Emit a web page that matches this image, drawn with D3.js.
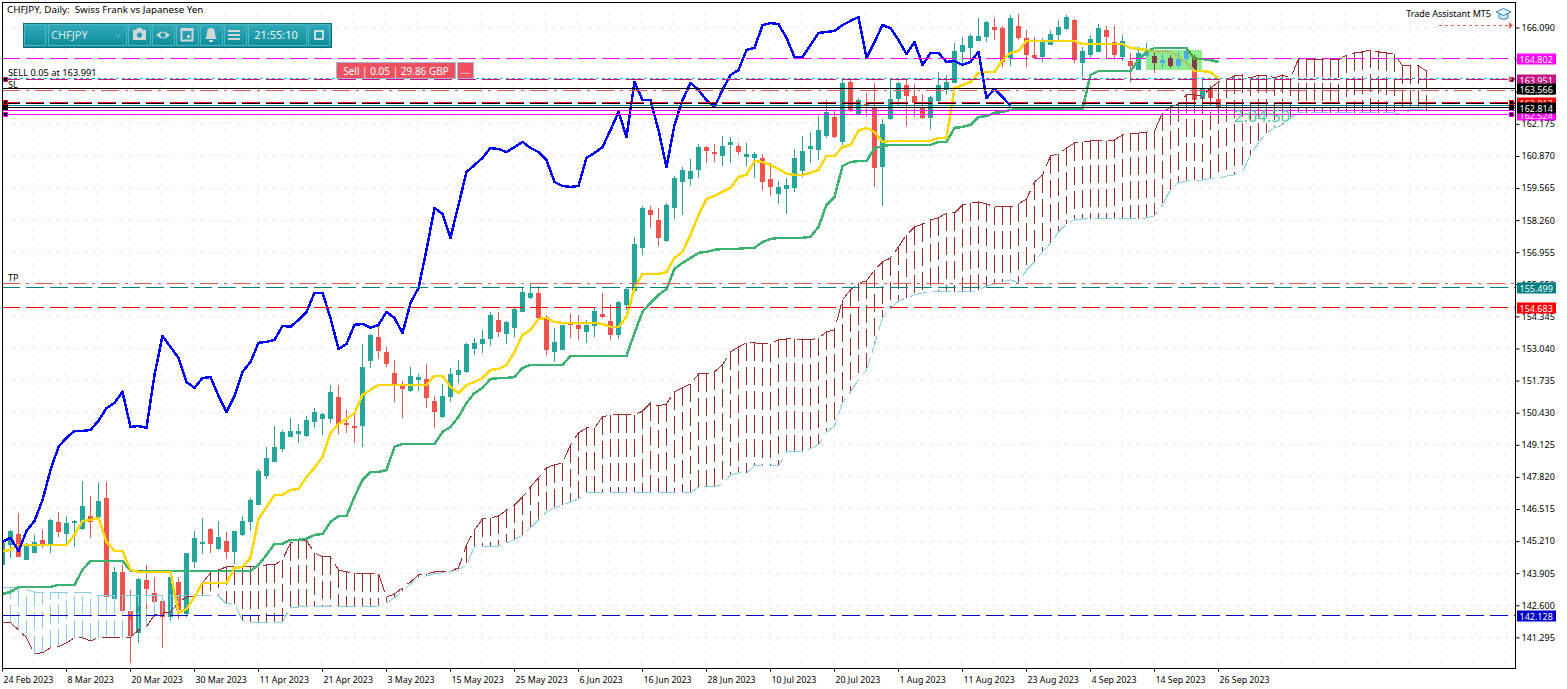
<!DOCTYPE html>
<html>
<head>
<meta charset="utf-8">
<title>CHFJPY Daily</title>
<script src="https://cdn.jsdelivr.net/npm/d3@7"></script>
<style>
html, body { margin: 0; padding: 0; background: #fff; overflow: hidden; }
svg { display: block; }
text { font-family: "Noto Sans", sans-serif; font-size: 9px; fill: #000; }
</style>
</head>
<body>
<script>
// daily candles, one entry per bar
const candleOpen = [
144.22,145.04,145.48,144.42,144.71,145.24,145.08,145.97,145.48,145.93,
145.68,146.21,146.17,146.95,142.84,143.94,142.35,141.46,143.61,143.08,
142.76,142.11,143.53,142.23,144.34,145.08,145.68,144.87,145.20,144.75,
145.44,145.97,146.66,147.84,148.41,148.94,149.43,149.55,149.47,150.04,
150.16,150.16,151.05,149.99,149.87,149.87,152.51,153.49,152.88,152.03,
151.54,151.30,151.74,151.78,150.89,150.24,151.05,151.95,152.07,153.00,
153.21,153.41,154.18,153.61,153.86,154.51,155.08,155.28,154.30,152.88,
152.96,154.02,153.98,153.69,153.94,154.43,154.14,153.57,154.79,155.36,
157.11,158.65,158.25,157.39,158.73,159.79,159.91,160.28,161.21,161.01,
160.85,161.30,161.25,160.81,160.77,160.77,159.91,159.30,159.51,159.55,
160.24,161.13,161.09,161.66,162.43,161.42,163.86,162.56,162.96,162.84,
160.40,162.35,163.17,163.73,163.29,162.84,162.39,163.08,163.53,163.82,
165.08,165.24,165.52,165.69,166.09,166.05,164.83,166.13,165.64,164.95,
164.87,165.36,165.77,166.01,166.38,164.63,164.95,165.08,165.97,165.48,
164.87,164.71,164.34,164.91,164.91,164.63,164.83,164.51,164.79,164.87,
163.17,163.57,163.17];
const candleHigh = [
145.56,145.64,146.34,145.12,145.44,145.64,146.09,146.38,146.21,146.05,
147.64,147.03,147.56,147.60,144.14,144.22,143.20,143.69,144.22,143.73,
142.80,143.73,143.73,144.71,145.60,146.13,145.72,146.01,145.56,145.60,
146.21,146.95,148.12,149.02,149.87,149.71,150.20,149.95,150.28,150.60,
150.40,151.54,151.54,150.52,150.40,153.21,153.61,153.98,153.08,152.56,
151.70,152.27,151.98,152.39,151.09,151.58,152.23,152.56,153.25,153.45,
153.78,154.51,154.51,154.14,154.67,155.52,155.69,155.56,154.39,153.86,
153.98,154.43,154.39,154.18,154.67,155.28,154.79,154.95,155.52,157.56,
158.82,158.82,158.73,158.94,160.03,160.40,160.73,161.34,161.25,161.34,
161.66,161.62,161.38,161.38,161.01,160.93,160.56,159.83,159.95,161.13,
161.66,161.82,162.47,163.12,162.72,164.02,163.94,163.21,163.41,163.82,
162.35,164.02,163.86,164.02,163.78,163.37,163.29,164.26,164.14,165.44,
165.69,165.81,166.46,166.34,166.46,166.13,166.58,166.62,165.97,165.69,
165.65,165.97,166.38,166.58,166.42,165.28,165.77,166.21,166.13,166.13,
165.77,165.04,165.28,165.44,165.08,165.04,164.95,165.08,165.20,164.95,
164.06,163.73,163.17];
const candleLow = [
144.14,144.50,144.54,144.42,144.71,144.91,144.71,145.36,145.08,144.95,
145.64,145.32,146.13,142.92,142.84,142.31,140.24,141.05,142.31,142.11,
140.85,141.94,142.03,142.11,144.10,144.67,144.71,144.83,144.46,144.26,
145.40,145.60,146.66,147.72,148.41,148.82,149.43,149.18,149.43,149.79,
149.51,149.99,149.55,149.59,149.18,149.02,152.23,152.60,152.27,150.85,
150.20,151.26,151.30,150.60,149.79,150.20,150.85,151.62,152.03,152.76,
152.84,153.12,153.49,153.21,153.49,154.51,155.03,154.26,152.76,152.47,
152.96,153.45,153.37,153.25,153.49,154.26,153.37,153.41,154.59,155.36,
156.82,157.92,157.19,157.35,158.29,158.45,159.63,159.95,160.56,160.60,
160.44,160.56,160.89,160.44,159.95,159.46,159.22,158.90,158.49,159.38,
160.00,160.56,160.68,161.58,161.58,161.30,162.64,162.51,162.43,159.59,
158.82,162.31,162.92,162.07,162.43,162.35,161.95,163.04,163.33,163.82,
164.55,164.75,165.52,165.48,165.56,164.47,164.51,165.56,164.47,164.79,
164.67,165.36,165.56,165.97,164.63,164.06,164.79,165.08,164.83,164.75,
164.71,163.86,164.34,164.83,164.22,164.43,164.43,164.43,164.63,163.12,
163.12,163.17,162.76];
const candleClose = [
145.12,145.60,144.54,145.00,145.16,145.00,146.05,145.56,145.93,146.01,
146.62,145.97,146.82,142.92,143.94,142.35,141.34,143.65,143.25,142.72,
142.11,143.73,142.39,144.71,145.32,145.16,145.08,145.36,144.75,145.60,
146.01,146.86,148.04,148.57,149.02,149.63,149.67,149.67,150.12,150.44,
150.36,151.26,149.95,149.91,149.79,152.27,153.57,152.92,152.39,151.54,
151.38,151.90,151.86,151.01,150.44,151.09,151.98,152.15,153.21,153.25,
153.41,154.39,153.69,154.10,154.63,155.32,155.28,154.26,152.96,153.29,
153.98,153.98,153.82,153.98,154.55,154.30,153.57,154.91,155.44,157.27,
158.73,158.45,157.52,158.86,159.95,160.28,160.24,161.21,161.05,160.93,
161.25,161.42,161.01,160.93,160.93,159.79,159.59,159.59,159.67,160.77,
161.05,161.25,161.90,162.64,161.62,163.82,162.72,163.12,162.88,160.36,
162.15,163.17,163.82,163.29,163.00,162.39,163.25,163.73,163.86,165.12,
165.36,165.73,165.73,166.30,165.97,164.67,166.46,165.64,164.95,164.83,
165.48,165.81,166.09,166.50,164.75,165.12,165.60,166.05,165.69,164.95,
165.52,164.51,165.04,165.08,164.63,164.75,164.51,164.79,165.12,163.12,
163.57,163.21,162.84];

// ichimoku
const tenkan = [
144.79,144.83,145.04,145.04,145.04,145.04,145.04,145.04,145.04,145.44,146.01,146.05,146.13,145.16,144.79,144.79,
144.02,143.94,143.94,143.94,143.94,143.94,142.27,142.43,142.92,143.49,143.49,143.49,143.49,
144.10,144.14,144.51,146.09,146.58,147.07,147.07,147.27,147.31,147.80,148.17,148.61,149.59,149.95,150.16,150.40,151.13,151.34,
151.54,151.54,151.54,151.54,151.54,151.54,151.54,151.91,151.91,
151.46,151.21,151.54,151.66,151.82,152.15,152.19,152.35,152.88,153.57,153.78,154.22,154.26,154.10,
154.06,154.06,154.06,154.06,154.06,154.02,153.90,153.90,154.30,155.48,156.05,156.05,156.05,
156.13,156.70,156.95,157.64,158.45,159.10,159.22,159.39,159.55,159.99,160.08,160.65,160.60,160.48,160.32,160.12,160.08,160.08,160.16,160.28,160.85,160.85,161.21,161.30,161.87,161.99,161.82,161.42,
161.46,161.46,161.46,161.46,161.46,161.46,161.58,161.58,163.61,163.73,163.86,164.22,164.26,164.26,164.75,165.04,165.12,
165.52,165.52,165.52,165.52,165.52,165.52,165.52,165.40,165.40,165.40,165.40,165.40,165.40,
165.24,165.20,165.16,165.08,165.12,165.08,164.87,164.63,164.30,164.30,164.26,163.98];
const kijun = [
143.04,143.12,143.33,143.33,143.33,143.33,143.33,143.41,143.41,143.41,144.02,144.39,144.39,144.39,144.39,144.39,
143.98,143.98,143.98,143.98,143.98,143.98,143.98,143.98,143.98,143.98,143.98,143.98,143.98,143.98,143.98,143.98,
144.22,144.63,145.08,145.08,145.24,145.24,145.28,145.44,145.48,145.97,146.21,146.21,146.99,147.68,148.00,148.00,148.08,149.02,
149.14,149.14,149.14,149.14,149.14,149.63,149.83,150.24,150.81,151.21,151.42,151.78,151.82,151.82,151.86,152.23,
152.35,152.35,152.35,152.35,152.35,152.72,152.72,152.72,152.72,152.72,152.72,152.72,152.72,
153.65,154.51,154.87,155.20,155.44,156.26,156.50,156.70,156.91,156.95,157.03,157.07,157.07,157.07,157.11,157.11,157.35,157.47,
157.52,157.52,157.52,157.52,157.56,157.96,158.86,159.18,160.44,160.60,160.64,160.64,161.17,161.25,
161.30,161.30,161.30,161.30,161.30,161.30,161.42,161.42,161.99,162.03,162.11,162.43,162.47,162.60,162.64,162.72,
162.76,162.76,162.76,162.76,162.76,162.76,162.76,162.76,162.76,164.14,164.30,164.30,164.30,164.30,164.30,
164.75,165.08,165.24,165.24,165.24,165.24,165.24,164.79,164.79,164.75,164.67];
const chikou = [
145.16,145.32,144.79,145.60,146.01,146.86,148.08,149.02,149.39,149.67,149.67,149.71,150.08,150.60,150.81,151.26,149.83,149.87,149.79,151.95,
153.53,153.08,152.64,151.66,151.42,151.82,151.86,151.09,150.44,151.09,152.07,152.47,153.25,153.29,153.37,153.94,153.90,154.18,154.51,155.28,
155.28,154.26,153.00,153.21,153.98,154.02,153.86,153.98,154.51,154.26,153.65,154.87,155.48,157.03,158.73,158.49,157.52,158.86,160.20,160.48,
160.77,161.17,161.13,161.01,161.21,161.42,161.17,161.01,160.68,159.79,159.63,159.59,159.63,160.77,160.97,161.21,161.90,162.64,161.62,163.86,
163.12,163.12,161.90,160.40,162.11,163.12,163.82,163.53,163.12,162.84,163.53,164.14,164.34,165.16,165.24,166.17,166.25,166.21,165.65,164.87,
164.87,165.36,165.85,165.89,165.93,166.17,166.34,166.50,164.83,165.48,166.17,166.05,165.56,164.99,165.48,164.55,165.04,165.04,164.67,164.71,
164.55,164.67,165.08,163.21,163.57,163.25,162.88];
const spanA = [
141.87,141.87,141.58,141.26,140.61,140.65,140.85,140.89,141.05,141.26,141.26,141.13,141.26,141.26,141.26,141.26,141.26,141.58,141.70,142.19,
142.27,142.31,142.68,142.92,142.96,143.49,143.90,144.02,144.14,144.14,144.14,144.14,144.14,144.22,144.22,144.42,145.12,145.20,145.20,144.71,
144.55,144.55,144.02,143.94,143.90,143.86,143.86,143.86,142.92,143.04,143.29,143.53,143.82,143.86,143.94,143.94,143.98,144.10,145.04,145.64,
146.09,146.13,146.21,146.46,146.66,146.99,147.39,147.76,148.17,148.29,148.37,149.10,149.59,149.79,149.79,150.24,150.32,150.32,150.32,150.32,
150.48,150.81,150.69,150.77,151.26,151.42,151.58,151.99,151.99,152.07,152.35,152.88,153.08,153.25,153.25,153.21,153.21,153.37,153.41,153.41,
153.37,153.37,153.45,153.69,153.78,155.00,155.40,155.69,155.77,156.21,156.54,156.70,157.15,157.64,157.96,158.08,158.25,158.33,158.53,158.53,
158.86,158.94,158.98,158.90,158.78,158.78,158.78,158.90,159.10,159.79,160.08,160.85,160.93,161.17,161.38,161.42,161.46,161.46,161.46,161.50,
161.70,161.78,161.78,161.82,161.86,162.60,162.84,162.96,163.33,163.33,163.29,163.61,163.86,163.94,164.10,164.14,164.02,164.14,164.14,164.02,
164.14,164.02,164.79,164.79,164.79,164.79,164.79,164.75,164.95,165.04,165.08,165.16,165.08,165.04,164.99,164.51,164.51,164.51,164.30];
const spanB = [
143.29,143.29,143.29,143.21,143.12,143.12,143.12,143.12,143.12,143.12,143.12,143.08,
142.96,142.96,142.96,142.96,142.96,142.96,142.96,142.96,142.96,142.96,142.96,142.96,142.96,142.96,142.96,142.96,
142.64,142.64,141.95,141.90,141.90,141.90,141.90,141.90,142.51,142.51,
142.55,142.55,142.55,142.55,142.55,142.55,142.55,142.55,142.55,142.55,
142.68,142.88,143.17,143.45,143.73,143.78,143.86,143.90,143.94,144.02,144.22,144.95,144.99,144.99,144.99,145.12,145.24,145.44,145.73,146.05,146.38,146.54,146.66,146.78,146.91,
147.15,147.15,147.15,147.15,147.15,147.15,147.15,147.15,147.15,147.15,147.15,147.15,147.15,147.15,
147.39,147.39,147.39,147.51,147.88,147.96,147.96,148.25,148.25,148.25,148.25,148.82,148.82,
148.82,148.94,149.10,149.63,149.87,150.81,151.26,151.74,152.15,153.17,154.26,154.67,154.95,155.08,155.20,155.28,
155.32,155.32,155.32,155.32,155.32,155.32,155.40,155.56,155.65,155.73,155.81,155.69,156.21,156.54,156.95,157.31,157.76,158.08,158.25,
158.29,158.29,158.29,158.29,158.29,158.29,158.29,158.29,158.33,158.41,158.86,159.47,159.75,159.83,159.87,159.87,159.95,159.95,160.03,160.08,160.20,160.89,161.38,161.78,161.99,162.11,162.39,
162.60,162.60,162.60,162.60,162.60,162.60,162.60,162.60,162.60,162.60,162.60,162.60,162.60,162.51,162.72,162.72,162.72];

// axis labels
const dateLabels = ["24 Feb 2023","8 Mar 2023","20 Mar 2023","30 Mar 2023","11 Apr 2023","21 Apr 2023","3 May 2023","15 May 2023","25 May 2023","6 Jun 2023","16 Jun 2023","28 Jun 2023","10 Jul 2023","20 Jul 2023","1 Aug 2023","11 Aug 2023","23 Aug 2023","4 Sep 2023","14 Sep 2023","26 Sep 2023"];
const priceTicks = [166.090,164.785,163.480,162.175,160.870,159.565,158.260,156.955,155.650,154.345,153.040,151.735,150.430,149.125,147.820,146.515,145.210,143.905,142.600,141.295];

// price tags on the right axis
const tagValues = [164.802,163.951,163.012,162.524,163.566,162.814,155.499,154.683,142.128];
const tagColors = ["#ff00ff","#c71585","#ff0000","#ff00ff","#000000","#000000","#008080","#ff0000","#0000cd"];

const width = 1567;
const height = 689;
const left = 2, right = 1515, top_ = 2, bottom = 668;
const barStep = 8;

const x = d3.scaleLinear().domain([0, 1]).range([left + 0.5, left + 0.5 + barStep]);
const y = d3.scaleLinear().domain([140.03, 167.108]).range([bottom, top_]);

const upColor = "#26a69a", downColor = "#ef5350";

const svg = d3.select("body").append("svg")
    .attr("width", width)
    .attr("height", height)
    .attr("viewBox", `0 0 ${width} ${height}`);

const defs = svg.append("defs");
defs.append("clipPath").attr("id", "plot").append("rect")
    .attr("x", left).attr("y", top_).attr("width", right - left).attr("height", bottom - top_);
defs.append("clipPath").attr("id", "boxClip").append("rect")
    .attr("x", 1146).attr("y", 50).attr("width", 56).attr("height", 20);
const grad = defs.append("linearGradient").attr("id", "bar").attr("x1", 0).attr("x2", 0).attr("y1", 0).attr("y2", 1);
grad.append("stop").attr("offset", 0).attr("stop-color", "#33abbb");
grad.append("stop").attr("offset", 1).attr("stop-color", "#0e8c9c");

const plot = svg.append("g").attr("clip-path", "url(#plot)");

// grid
const vGrid = d3.range(0, 190, 4);
plot.append("g").selectAll("line").data(vGrid).join("line")
    .attr("x1", d => x(d)).attr("x2", d => x(d))
    .attr("y1", top_).attr("y2", bottom)
    .attr("stroke", "#ececec").attr("stroke-dasharray", "5 4");
plot.append("g").selectAll("line").data(priceTicks).join("line")
    .attr("x1", left).attr("x2", right)
    .attr("y1", d => Math.round(y(d)) + 0.5).attr("y2", d => Math.round(y(d)) + 0.5)
    .attr("stroke", "#ececec").attr("stroke-dasharray", "5 4");

function drawCandles(g, up, down) {
    const bars = g.append("g").selectAll("g").data(candleOpen).join("g")
        .attr("shape-rendering", "crispEdges");
    bars.append("line")
        .attr("x1", (d, i) => x(i)).attr("x2", (d, i) => x(i))
        .attr("y1", (d, i) => y(candleHigh[i])).attr("y2", (d, i) => y(candleLow[i]))
        .attr("stroke", (d, i) => candleClose[i] >= d ? up : down);
    bars.append("rect")
        .attr("x", (d, i) => x(i) - 2.5)
        .attr("width", 5)
        .attr("y", (d, i) => y(Math.max(d, candleClose[i])))
        .attr("height", (d, i) => Math.max(1, Math.abs(y(d) - y(candleClose[i]))))
        .attr("fill", (d, i) => candleClose[i] >= d ? up : down);
}
drawCandles(plot, upColor, downColor);

// cloud hatch, one dashed stick per bar from span A to span B
plot.append("g").selectAll("line").data(spanA).join("line")
    .attr("x1", (d, i) => x(i)).attr("x2", (d, i) => x(i))
    .attr("y1", d => y(d)).attr("y2", (d, i) => y(spanB[i]))
    .attr("stroke", (d, i) => d >= spanB[i] ? "#a52a2a" : "#87ceeb")
    .attr("stroke-dasharray", "18 6")
    .attr("shape-rendering", "crispEdges");

const line = d3.line().x((d, i) => x(i)).y(d => y(d));

function drawLine(g, values, color, w, dash) {
    return g.append("path")
        .attr("d", line(values))
        .attr("fill", "none")
        .attr("stroke", color)
        .attr("stroke-width", w)
        .attr("stroke-dasharray", dash || null)
        .attr("stroke-linejoin", "round")
        .attr("shape-rendering", "crispEdges");
}
drawLine(plot, spanA, "#a52a2a", 1, "18 6");
drawLine(plot, spanB, "#87ceeb", 1, "18 6");
drawLine(plot, kijun, "#3cb371", 2.5);
drawLine(plot, tenkan, "#ffd700", 2.5);
drawLine(plot, chikou, "#0000ff", 2.5);

// horizontal trade levels
function level(v, color, dash, w) {
    const yy = Math.round(y(v)) - 0.5;
    plot.append("line")
        .attr("x1", left).attr("x2", right)
        .attr("y1", yy).attr("y2", yy)
        .attr("stroke", color)
        .attr("stroke-width", w || 1)
        .attr("stroke-dasharray", dash || null)
        .attr("shape-rendering", "crispEdges");
}
const longDash = "18 6";
level(164.802, "#ff00ff", longDash);
level(163.951, "#c71585", longDash);
level(163.991, "#20b2aa", "3 3");
level(163.566, "#000000");
level(163.49, "#e0605a", "18 6 3 6");
level(163.012, "#ff0000", longDash);
level(162.97, "#000000", longDash);
level(162.86, "#008080");
level(162.814, "#000000");
level(162.68, "#ff00ff");
level(162.524, "#ff00ff");
level(155.65, "#e0605a", "18 6 3 6");
level(155.499, "#008080", longDash);
level(154.683, "#ff0000", longDash);
level(142.15, "#0000cd", longDash);

// highlight box over the latest bars
const box = svg.append("g");
box.append("rect").attr("x", 1146).attr("y", 50).attr("width", 56).attr("height", 20).attr("fill", "#90ee90");
const boxInner = box.append("g").attr("clip-path", "url(#boxClip)");
drawCandles(boxInner, "#4da8ef", "#853a4e");
drawLine(boxInner, kijun, "#4ca832", 2.5);
drawLine(boxInner, tenkan, "#a5cc6b", 2.5);

// text over the chart
svg.append("text").attr("x", 1234).attr("y", 122)
    .style("font-size", "16.5px").style("fill", "#4fc79f").text("2:04:50");

// frame
svg.append("rect").attr("x", left + 0.5).attr("y", top_ + 0.5)
    .attr("width", right - left).attr("height", bottom - top_)
    .attr("fill", "none").attr("stroke", "#000").attr("shape-rendering", "crispEdges");

// axes
const xAxis = d3.axisBottom(x)
    .tickValues(dateLabels.map((d, i) => i * barStep))
    .tickFormat((d, i) => dateLabels[i])
    .tickSize(3);
svg.append("g").attr("transform", `translate(-0.5,${bottom + 0.5})`).call(xAxis)
    .call(g => g.select(".domain").remove())
    .call(g => g.selectAll("text").attr("text-anchor", "start").attr("x", 1).attr("dy", "0.95em").style("font-size", "8.8px"));

const yAxis = d3.axisRight(y)
    .tickValues(priceTicks)
    .tickFormat(d3.format(".3f"))
    .tickSize(4);
svg.append("g").attr("transform", `translate(${right + 0.5},0.5)`).call(yAxis)
    .call(g => g.select(".domain").remove())
    .call(g => g.selectAll("text").attr("x", 6));

// tags
const tags = svg.append("g").selectAll("g").data(tagValues).join("g")
    .attr("transform", d => `translate(1517,${Math.round(y(d))})`);
tags.append("rect").attr("x", 0).attr("y", -5.5).attr("width", 39).attr("height", 11)
    .attr("fill", (d, i) => tagColors[i]);
tags.append("text").attr("x", 2.5).attr("y", 3.5).style("fill", "#fff")
    .text(d => d3.format(".3f")(d));

// level handles
const handles = [[79.5, "#c71585"], [102.5, "#ff0000"], [107.5, "#000"], [114.5, "#ff00ff"]];
[5, 1511].forEach(hx => {
    svg.append("g").selectAll("rect").data(handles).join("rect")
        .attr("x", hx - 2).attr("y", d => d[0] - 2).attr("width", 4).attr("height", 4)
        .attr("fill", "#000").attr("stroke", d => d[1]).attr("shape-rendering", "crispEdges");
});

// labels on chart
svg.append("text").attr("x", 7).attr("y", 13).style("font-size", "9.8px").attr("xml:space", "preserve").text("CHFJPY, Daily:  Swiss Frank vs Japanese Yen");
svg.append("text").attr("x", 8).attr("y", 76).style("font-size", "9.3px").text("SELL 0.05 at 163.991");
svg.append("text").attr("x", 8).attr("y", 88).text("SL");
svg.append("text").attr("x", 8).attr("y", 281).text("TP");
svg.append("text").attr("x", 1491).attr("y", 17).attr("text-anchor", "end").text("Trade Assistant MT5");

// graduation cap
const cap = svg.append("g").attr("transform", "translate(1496,8)");
cap.append("path").attr("d", "M3 6 V10 Q7.5 13 12 10 V6 Z").attr("fill", "#cfe6f6").attr("stroke", "#2f86c5");
cap.append("path").attr("d", "M0 4 L7.5 0.5 L15 4 L7.5 7.5 Z").attr("fill", "#e8f4fb").attr("stroke", "#2f86c5");

// arrows top right
svg.append("line").attr("x1", 1439).attr("x2", 1510).attr("y1", 25.5).attr("y2", 25.5)
    .attr("stroke", "#e0605a").attr("stroke-dasharray", "3 3");
svg.append("path").attr("d", "M1509 22 L1513 25.5 L1509 29 Z").attr("fill", "#e0605a");
svg.append("path").attr("d", "M1509 76 L1513 79 L1509 82 Z").attr("fill", "#e0605a");

// toolbar
const bar = svg.append("g").attr("transform", "translate(23,23)");
bar.append("rect").attr("width", 308).attr("height", 24).attr("fill", "url(#bar)").attr("stroke", "#0b6f7c").attr("shape-rendering", "crispEdges");
const cellX = [1.5, 25, 105.5, 129.5, 153.5, 177.5, 201.5, 225.5, 285.5];
const cellW = [21, 78, 22, 22, 22, 22, 22, 58, 21];
bar.append("g").selectAll("rect").data(cellX).join("rect")
    .attr("x", d => d).attr("y", 1.5).attr("height", 21)
    .attr("width", (d, i) => cellW[i])
    .attr("fill", "none").attr("stroke", "#4fb6c4").attr("shape-rendering", "crispEdges");
bar.append("text").attr("x", 28).attr("y", 16).style("font-size", "11px").style("fill", "#dce6e6").text("CHFJPY");
bar.append("text").attr("x", 253).attr("y", 16).attr("text-anchor", "middle").style("font-size", "11px").style("fill", "#eef5f5").text("21:55:10");
bar.append("path").attr("d", "M92 11 L95 14 L98 11").attr("fill", "none").attr("stroke", "#5cc0cc");

const iconColor = "#d2d8d8";
// camera
bar.append("path").attr("d", "M110 7 H113 L114.5 5 H118.5 L120 7 H123 V17 H110 Z").attr("fill", iconColor);
bar.append("circle").attr("cx", 116.5).attr("cy", 12).attr("r", 2.6).attr("fill", "#1f9dad");
// eye
bar.append("path").attr("d", "M133 12 Q140 5 147 12 Q140 19 133 12 Z").attr("fill", iconColor);
bar.append("circle").attr("cx", 140).attr("cy", 12).attr("r", 2.6).attr("fill", "#1f9dad");
// calendar
bar.append("rect").attr("x", 158.5).attr("y", 6.5).attr("width", 11).attr("height", 11).attr("fill", "none").attr("stroke", iconColor).attr("stroke-width", 2);
bar.append("rect").attr("x", 158).attr("y", 5).attr("width", 12).attr("height", 3).attr("fill", iconColor);
bar.append("rect").attr("x", 164).attr("y", 12).attr("width", 3).attr("height", 3).attr("fill", iconColor);
// bell
bar.append("path").attr("d", "M182 16 Q184 14 184 10 Q184 5 188 5 Q192 5 192 10 Q192 14 194 16 Z").attr("fill", iconColor);
bar.append("rect").attr("x", 186).attr("y", 17).attr("width", 4).attr("height", 2).attr("fill", iconColor);
// menu
[8, 12, 16].forEach(my => bar.append("rect").attr("x", 205).attr("y", my - 1).attr("width", 12).attr("height", 2).attr("fill", iconColor));
// restore
bar.append("rect").attr("x", 292).attr("y", 8).attr("width", 8).attr("height", 8).attr("fill", "none").attr("stroke", "#f2f6f6").attr("stroke-width", 1.5);

// sell button
const sell = svg.append("g").attr("transform", "translate(336,62)");
sell.append("rect").attr("x", 0.5).attr("y", 0.5).attr("width", 119).attr("height", 16).attr("fill", "#f0505f").attr("stroke", "#a8b8d0").attr("shape-rendering", "crispEdges");
sell.append("rect").attr("x", 121.5).attr("y", 0.5).attr("width", 16).attr("height", 16).attr("fill", "#f0505f").attr("stroke", "#a8b8d0").attr("shape-rendering", "crispEdges");
sell.append("text").attr("x", 60).attr("y", 12.5).attr("text-anchor", "middle").style("font-size", "10px").style("fill", "#fff").text("Sell | 0.05 | 29.86 GBP");
sell.append("text").attr("x", 129.5).attr("y", 12).attr("text-anchor", "middle").style("font-size", "11px").style("fill", "#fff").text("...");
</script>
</body>
</html>
